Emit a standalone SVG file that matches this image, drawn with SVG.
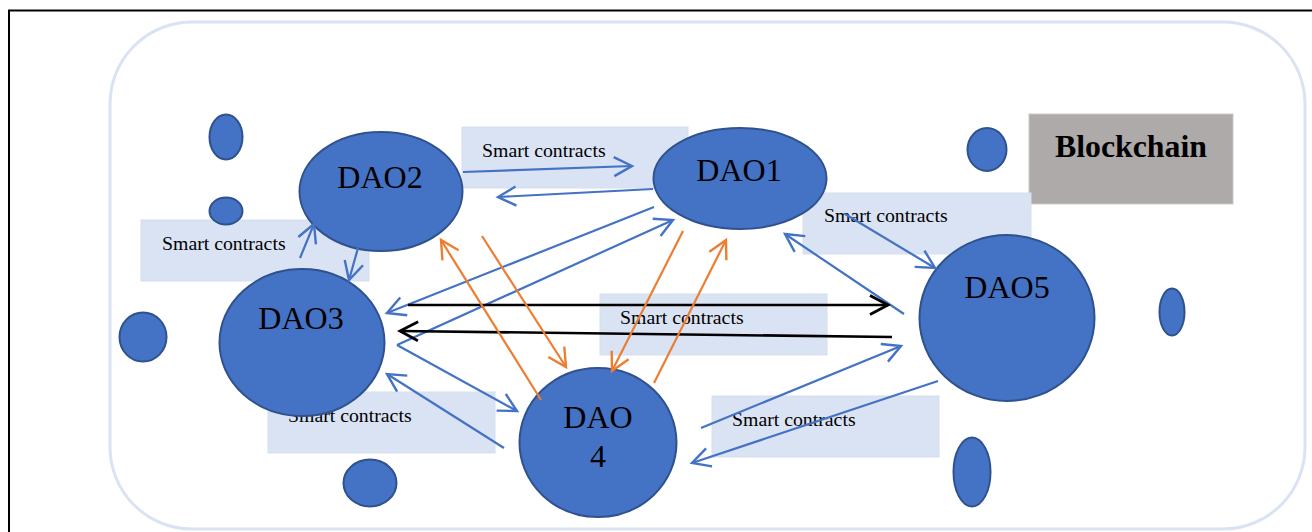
<svg xmlns="http://www.w3.org/2000/svg" width="1312" height="532" viewBox="0 0 1312 532">
<defs>
<style>
.frame{fill:#fff;stroke:#dae3f3;stroke-width:3}
.sc{fill:#dae3f3;stroke:#d6dfee;stroke-width:1}
.sct{font-family:"Liberation Serif","Times New Roman",serif;font-size:19.8px;fill:#000}
.dao{fill:#4472c4;stroke:#2f528f;stroke-width:2}
.daot{font-family:"Liberation Serif","Times New Roman",serif;font-size:32px;fill:#000;text-anchor:middle}
.blue{stroke:#4472c4;stroke-width:2.2;fill:none;marker-end:url(#ab)}
.blk{stroke:#000;stroke-width:2.6;fill:none;marker-end:url(#ak)}
.org{stroke:#ed7d31;stroke-width:2.2;fill:none;marker-end:url(#ao)}
</style>
<marker id="ab" markerUnits="userSpaceOnUse" markerWidth="26" markerHeight="26" viewBox="-22 -13 26 26" refX="0" refY="0" orient="auto"><path d="M-18,-9.5 L0,0 L-18,9.5" fill="none" stroke="#4472c4" stroke-width="2.4"/></marker>
<marker id="ak" markerUnits="userSpaceOnUse" markerWidth="26" markerHeight="26" viewBox="-22 -13 26 26" refX="0" refY="0" orient="auto"><path d="M-18,-9.5 L0,0 L-18,9.5" fill="none" stroke="#000" stroke-width="2.8"/></marker>
<marker id="ao" markerUnits="userSpaceOnUse" markerWidth="26" markerHeight="26" viewBox="-22 -13 26 26" refX="0" refY="0" orient="auto"><path d="M-18,-9.5 L0,0 L-18,9.5" fill="none" stroke="#ed7d31" stroke-width="2.4"/></marker>
</defs>
<rect x="0" y="0" width="1312" height="532" fill="#fff"/>
<rect x="9" y="10.5" width="1310" height="530" fill="none" stroke="#000" stroke-width="2"/>
<rect class="frame" x="110" y="22" width="1195" height="507" rx="82" ry="82"/>

<g id="blockchain">
<rect x="1029" y="114" width="204" height="90" fill="#aeaaaa" stroke="#c9c9c9" stroke-width="1"/>
<text x="1131" y="157" font-family="'Liberation Serif','Times New Roman',serif" font-size="31.8px" font-weight="bold" text-anchor="middle">Blockchain</text>
</g>

<g id="sc-a"><rect class="sc" x="462" y="127" width="226" height="61"/><text class="sct" x="482" y="157">Smart contracts</text></g>
<g id="sc-b"><rect class="sc" x="803" y="193" width="228" height="61"/><text class="sct" x="824" y="222">Smart contracts</text></g>
<g id="sc-c"><rect class="sc" x="141" y="220" width="228" height="61"/><text class="sct" x="162" y="250">Smart contracts</text></g>
<g id="sc-d"><rect class="sc" x="600" y="294" width="227" height="61"/><text class="sct" x="620" y="324">Smart contracts</text></g>
<g id="sc-e"><rect class="sc" x="268" y="392" width="227" height="61"/><text class="sct" x="288" y="422">Smart contracts</text></g>
<g id="sc-f"><rect class="sc" x="712" y="396" width="227" height="61"/><text class="sct" x="732" y="426">Smart contracts</text></g>

<g id="dots">
<ellipse class="dao" cx="226" cy="137" rx="16.5" ry="22.5"/>
<ellipse class="dao" cx="226" cy="211" rx="16.5" ry="13.5"/>
<ellipse class="dao" cx="143" cy="337" rx="23.5" ry="24.5"/>
<ellipse class="dao" cx="370" cy="483" rx="26.5" ry="23.5"/>
<ellipse class="dao" cx="987" cy="149.5" rx="19.5" ry="21.5"/>
<ellipse class="dao" cx="1172" cy="312" rx="12.5" ry="23.5"/>
<ellipse class="dao" cx="972" cy="472" rx="18.5" ry="34.5"/>
</g>

<g id="dao1"><ellipse class="dao" cx="740" cy="178.5" rx="86.5" ry="50.5"/><text class="daot" x="739" y="181">DAO1</text></g>
<g id="dao2"><ellipse class="dao" cx="381" cy="191.5" rx="81.5" ry="59.5"/><text class="daot" x="380" y="188">DAO2</text></g>
<g id="dao3"><ellipse class="dao" cx="302" cy="342.5" rx="82.5" ry="73.5"/><text class="daot" x="301" y="329">DAO3</text></g>
<g id="dao4"><ellipse class="dao" cx="598" cy="442.5" rx="78.5" ry="74.5"/><text class="daot" x="598" y="428">DAO</text><text class="daot" x="598" y="467">4</text></g>
<g id="dao5"><ellipse class="dao" cx="1007" cy="318" rx="87.5" ry="83"/><text class="daot" x="1007" y="298">DAO5</text></g>

<g id="connectors">
<line class="blue" x1="463" y1="172" x2="632" y2="166"/>
<line class="blue" x1="653" y1="189" x2="498" y2="197"/>
<line class="blue" x1="654" y1="207" x2="387" y2="313"/>
<line class="blue" x1="397" y1="345" x2="673" y2="220"/>
<line class="blue" x1="397" y1="345" x2="517" y2="411"/>
<line class="blue" x1="504" y1="448" x2="387" y2="374"/>
<line class="blue" x1="300" y1="258" x2="314" y2="224"/>
<line class="blue" x1="358" y1="248" x2="349" y2="280"/>
<line class="blue" x1="845" y1="214" x2="935" y2="268"/>
<line class="blue" x1="904" y1="314" x2="785" y2="234"/>
<line class="blue" x1="701" y1="428" x2="901" y2="346"/>
<line class="blue" x1="938" y1="381" x2="692" y2="463"/>
<line class="blk" x1="408" y1="305" x2="888" y2="305"/>
<line class="blk" x1="892" y1="337" x2="400" y2="331"/>
<line class="org" x1="541" y1="400" x2="441" y2="240"/>
<line class="org" x1="482" y1="236" x2="566" y2="367"/>
<line class="org" x1="683" y1="231" x2="612" y2="371"/>
<line class="org" x1="654" y1="383" x2="726" y2="240"/>
</g>
</svg>
